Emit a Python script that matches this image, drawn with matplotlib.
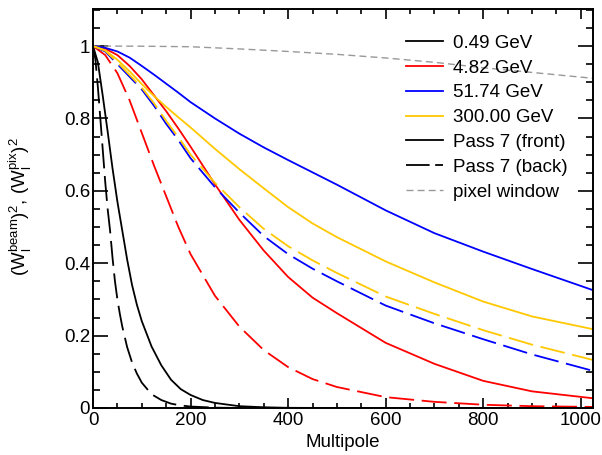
import matplotlib
matplotlib.use('Agg')
import matplotlib.pyplot as plt
from matplotlib.lines import Line2D
from matplotlib.ticker import MultipleLocator, FuncFormatter

plt.rcParams['font.family'] = ['Liberation Sans', 'DejaVu Sans']
plt.rcParams['mathtext.fontset'] = 'custom'
plt.rcParams['mathtext.rm'] = 'Liberation Sans'
plt.rcParams['lines.scale_dashes'] = False

### values (multipole -> window^2)
ell_black = [0, 10, 20, 30, 40, 50, 60, 70, 80, 90, 100, 120, 140, 160, 180, 200,
             225, 250, 300, 350, 400, 500, 1024]
front_049 = [1.0, 0.955, 0.862, 0.764, 0.662, 0.570, 0.49, 0.41, 0.34, 0.285, 0.24,
             0.17, 0.118, 0.078, 0.052, 0.036, 0.022, 0.014, 0.005, 0.002, 0.0005, 0.0, 0.0]

ell_black_b = [0, 5, 10, 15, 20, 25, 30, 35, 40, 45, 50, 55, 60, 70, 80, 90, 100,
               120, 140, 160, 180, 200, 250, 300, 1024]
back_049 = [1.0, 0.962, 0.886, 0.80, 0.713, 0.625, 0.55, 0.49, 0.415, 0.35, 0.30,
            0.26, 0.225, 0.168, 0.126, 0.095, 0.07, 0.038, 0.022, 0.012, 0.007,
            0.004, 0.001, 0.0, 0.0]

ell = [0, 25, 50, 75, 100, 125, 150, 175, 200, 250, 300, 350, 400, 450, 500,
       600, 700, 800, 900, 1024]
front_482 = [1.0, 0.993, 0.975, 0.945, 0.908, 0.864, 0.82, 0.772, 0.722, 0.618, 0.52,
             0.435, 0.362, 0.305, 0.262, 0.18, 0.122, 0.075, 0.046, 0.027]
back_482 = [1.0, 0.975, 0.925, 0.85, 0.76, 0.67, 0.585, 0.50, 0.425, 0.31, 0.225,
            0.16, 0.113, 0.08, 0.058, 0.03, 0.017, 0.009, 0.005, 0.003]
front_5174 = [1.0, 0.995, 0.985, 0.968, 0.945, 0.921, 0.896, 0.871, 0.845, 0.80, 0.758,
              0.72, 0.685, 0.651, 0.617, 0.546, 0.483, 0.432, 0.384, 0.326]
back_5174 = [1.0, 0.985, 0.95, 0.915, 0.88, 0.835, 0.785, 0.74, 0.69, 0.61, 0.54,
             0.475, 0.425, 0.385, 0.35, 0.283, 0.234, 0.19, 0.148, 0.103]
front_300 = [1.0, 0.988, 0.962, 0.93, 0.895, 0.862, 0.832, 0.803, 0.775, 0.716, 0.66,
             0.607, 0.555, 0.51, 0.472, 0.405, 0.347, 0.294, 0.253, 0.218]
back_300 = [1.0, 0.987, 0.955, 0.92, 0.885, 0.842, 0.793, 0.748, 0.70, 0.622, 0.555,
            0.495, 0.447, 0.408, 0.373, 0.308, 0.26, 0.215, 0.175, 0.133]

ell_pix = [0, 100, 200, 300, 400, 500, 600, 700, 800, 900, 1024]
pixwin = [1.0, 0.9995, 0.998, 0.992, 0.985, 0.977, 0.967, 0.955, 0.94, 0.927, 0.911]

labels = ['0.49 GeV', '4.82 GeV', '51.74 GeV', '300.00 GeV',
          'Pass 7 (front)', 'Pass 7 (back)', 'pixel window']

RED = '#ff0000'
BLUE = '#0000ff'
GOLD = '#ffc800'
GRAY = '#999999'
LW = 1.3
LONG_DASH = (18, 5.5)
PIX_DASH = (5, 3)

fig = plt.figure(figsize=(6.02, 4.55), dpi=100)
ax = fig.add_axes([0.1545, 0.1033, 0.8305, 0.8767])

ax.plot(ell_pix, pixwin, color=GRAY, lw=1.0, dashes=PIX_DASH)

ax.plot(ell_black, front_049, color='black', lw=LW)
ax.plot(ell_black_b, back_049, color='black', lw=LW, dashes=LONG_DASH)
ax.plot(ell, front_482, color=RED, lw=LW)
ax.plot(ell, back_482, color=RED, lw=LW, dashes=LONG_DASH)
ax.plot(ell, front_5174, color=BLUE, lw=LW)
ax.plot(ell, back_5174, color=BLUE, lw=LW, dashes=LONG_DASH)
ax.plot(ell, front_300, color=GOLD, lw=LW)
ax.plot(ell, back_300, color=GOLD, lw=LW, dashes=LONG_DASH)

ax.set_xlim(0, 1025)
ax.set_ylim(0, 1.102)

ax.xaxis.set_major_locator(MultipleLocator(200))
ax.xaxis.set_minor_locator(MultipleLocator(50))
ax.yaxis.set_major_locator(MultipleLocator(0.2))
ax.yaxis.set_minor_locator(MultipleLocator(0.05))
ax.yaxis.set_major_formatter(FuncFormatter(lambda v, p: '%g' % round(v, 2)))

ax.tick_params(which='both', direction='in', top=True, right=True,
               labelsize=13.5, width=1.2)
ax.tick_params(axis='x', which='major', length=7.5, pad=3)
ax.tick_params(axis='x', which='minor', length=3.8)
ax.tick_params(axis='y', which='major', length=10.5, pad=2)
ax.tick_params(axis='y', which='minor', length=5.2)
for sp in ax.spines.values():
	sp.set_linewidth(1.4)

ax.set_xlabel('Multipole', fontsize=13.5)
ax.set_ylabel(r'$(\mathrm{W}_\mathrm{l}^\mathrm{beam})^2$, $(\mathrm{W}_\mathrm{l}^\mathrm{pix})^2$',
              fontsize=13.5)
ax.xaxis.set_label_coords(0.5, -0.065)
ax.yaxis.set_label_coords(-0.118, 0.505)

### legend uses proxy lines
handles = [
	Line2D([], [], color='black', lw=LW),
	Line2D([], [], color=RED, lw=LW),
	Line2D([], [], color=BLUE, lw=LW),
	Line2D([], [], color=GOLD, lw=LW),
	Line2D([], [], color='black', lw=LW),
	Line2D([], [], color='black', lw=LW, dashes=(17, 4)),
	Line2D([], [], color=GRAY, lw=1.0, dashes=PIX_DASH),
]
ax.legend(handles, labels, loc='upper left', bbox_to_anchor=(0.626, 0.936),
          frameon=False, fontsize=13.5, handlelength=2.0, handletextpad=0.5,
          labelspacing=0.41, borderpad=0, borderaxespad=0)

fig.savefig('out.png', dpi=100)
